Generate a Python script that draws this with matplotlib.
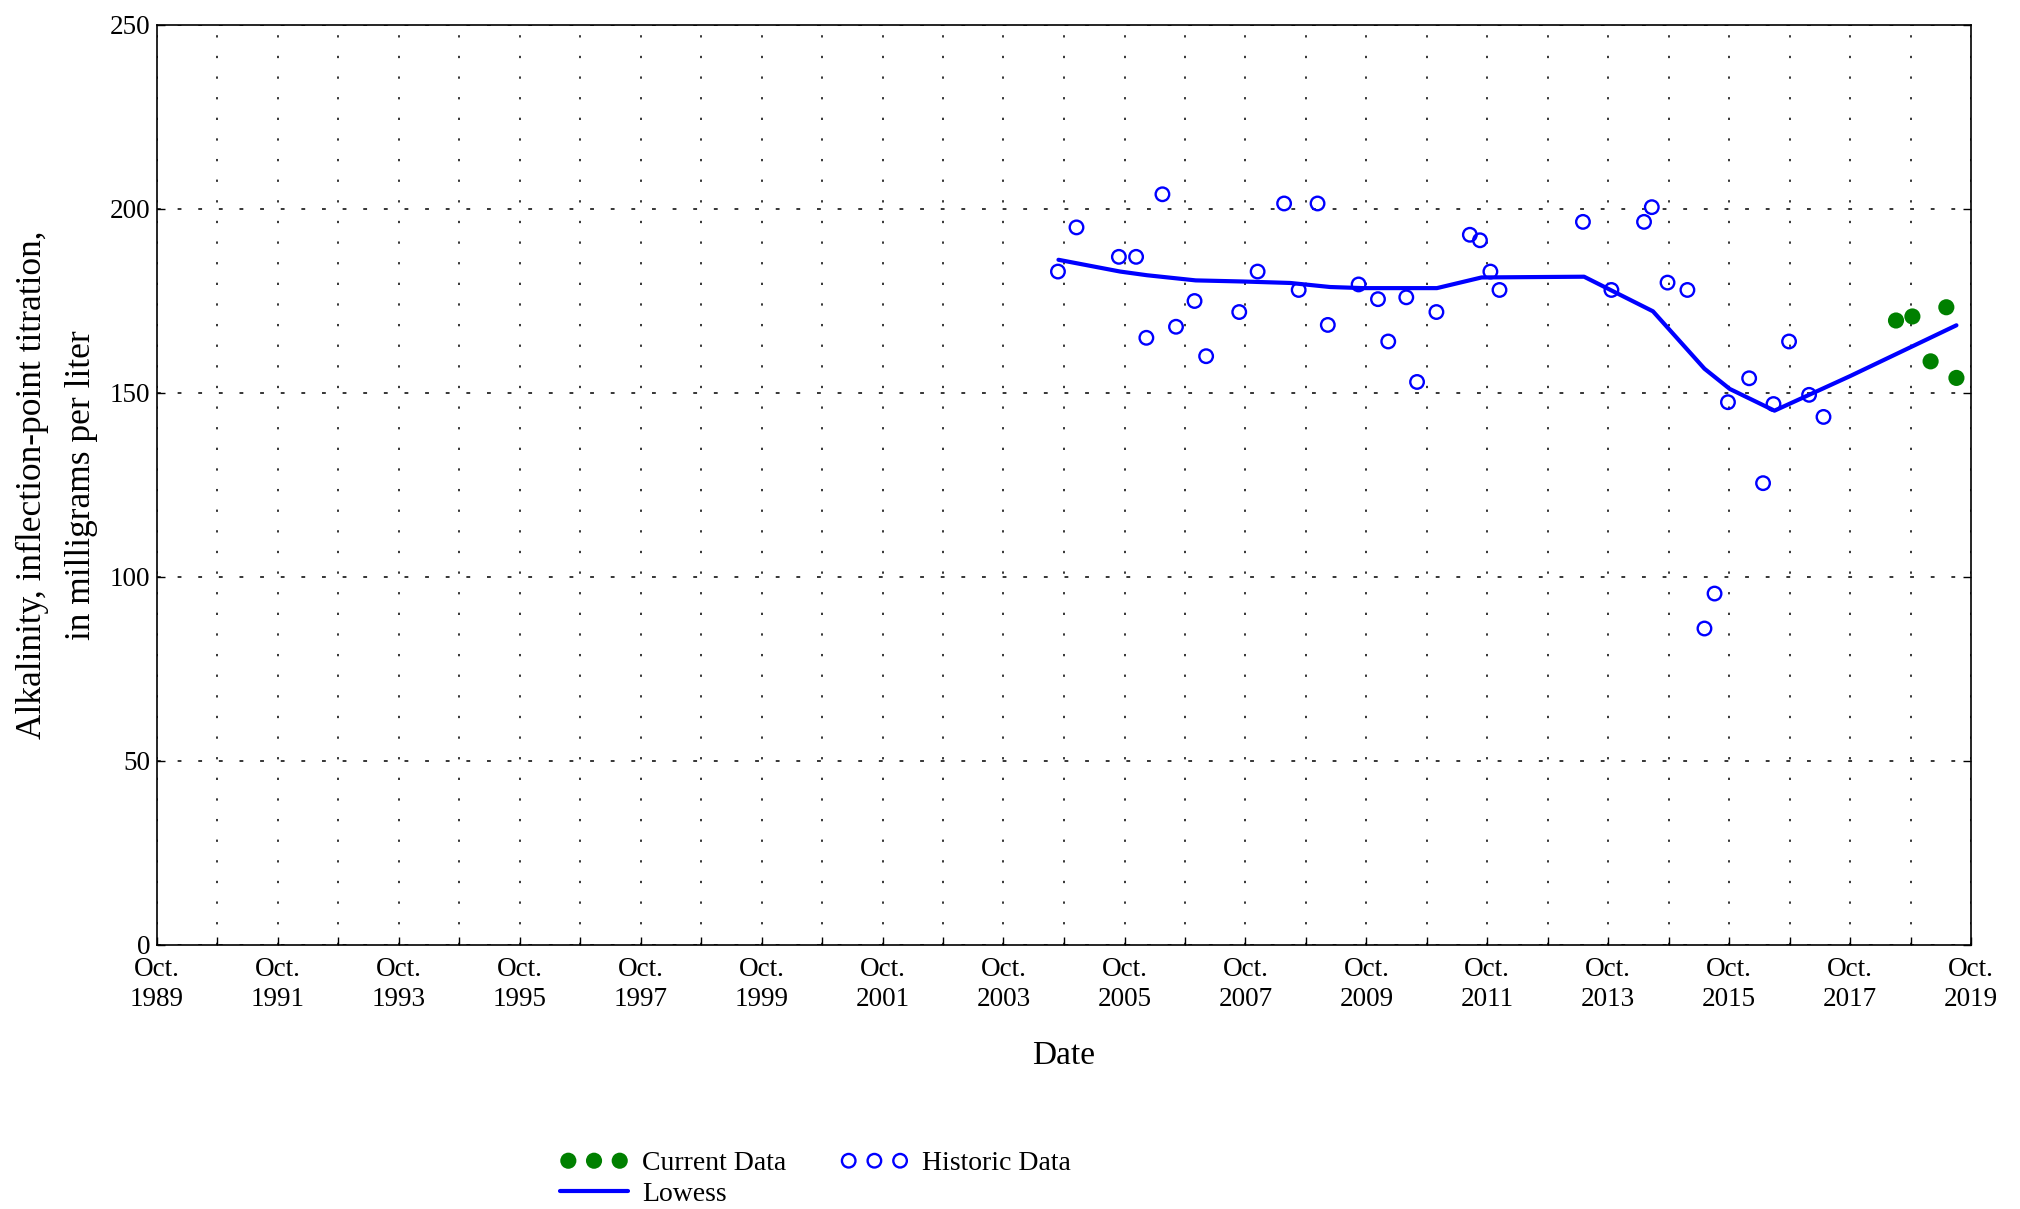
"""
Alkalinity time series: historic / current samples with a lowess curve
"""
from datetime import datetime

import matplotlib
matplotlib.use('Agg')
import matplotlib.pyplot as plt
import pandas as pd

plt.rcParams['font.family'] = ['Liberation Serif', 'DejaVu Serif']

# historic samples (blue open circles)
hist_dates = [
    '2004-08-25', '2004-12-15', '2005-08-28', '2005-12-10', '2006-02-10',
    '2006-05-18', '2006-08-08', '2006-11-28', '2007-02-06', '2007-08-25',
    '2007-12-14', '2008-05-22', '2008-08-18', '2008-12-10', '2009-02-10',
    '2009-08-15', '2009-12-10', '2010-02-10', '2010-05-30', '2010-08-03',
    '2010-11-28', '2011-06-18', '2011-08-18', '2011-10-20', '2011-12-14',
    '2013-05-01', '2013-10-20', '2014-05-05', '2014-06-21', '2014-09-24',
    '2015-01-22', '2015-05-05', '2015-07-05', '2015-09-24', '2016-01-30',
    '2016-04-23', '2016-06-25', '2016-09-27', '2017-01-26', '2017-04-23',
]
hist_vals = [
    183, 195, 187, 187, 165,
    204, 168, 175, 160, 172,
    183, 201.5, 178, 201.5, 168.5,
    179.5, 175.5, 164, 176, 153,
    172, 193, 191.5, 183, 178,
    196.5, 178, 196.5, 200.5, 180,
    178, 86, 95.5, 147.5, 154,
    125.5, 147, 164, 149.5, 143.5,
]

# current samples (green dots)
cur_dates = ['2018-07-05', '2018-10-12', '2019-01-30', '2019-05-05', '2019-07-05']
cur_vals = [169.7, 170.8, 158.6, 173.3, 154.1]

# lowess curve
lowess_dates = [
    '2004-08-28', '2005-09-05', '2006-02-14', '2006-12-05', '2007-09-16',
    '2008-06-28', '2009-02-24', '2009-09-12', '2010-12-01', '2011-08-28',
    '2013-05-08', '2014-06-28', '2015-05-05', '2015-10-05', '2016-07-01',
    '2017-10-01', '2019-07-05',
]
lowess_vals = [
    186.2, 183.0, 182.0, 180.6, 180.3,
    179.9, 178.8, 178.5, 178.5, 181.4,
    181.6, 172.2, 156.6, 151.1, 145.2,
    154.6, 168.4,
]

tick_years = list(range(1989, 2020))
y_ticks = [0, 50, 100, 150, 200, 250]

BLUE = '#0000ff'
GREEN = '#008000'

fig = plt.figure(figsize=(20.2, 12.09), dpi=100)
W, H = 2020, 1209
ax = fig.add_axes([157 / W, 1 - 945 / H, (1971 - 157) / W, (945 - 25) / H])

h_low, = ax.plot(pd.to_datetime(lowess_dates), lowess_vals, color=BLUE, lw=3.0,
                 solid_capstyle='round', label='Lowess', zorder=3)
h_hist = ax.scatter(pd.to_datetime(hist_dates), hist_vals, s=95, facecolors='none',
                    edgecolors=BLUE, linewidths=1.7, label='Historic Data', zorder=4)
h_cur = ax.scatter(pd.to_datetime(cur_dates), cur_vals, s=135, color=GREEN,
                   edgecolors='none', label='Current Data', zorder=4)

# axes limits and ticks
ax.set_xlim(datetime(1989, 10, 1), datetime(2019, 10, 1))
ax.set_ylim(0, 250)

major = [datetime(y, 10, 1) for y in tick_years if y % 2 == 1]
minor = [datetime(y, 10, 1) for y in tick_years if y % 2 == 0]
ax.set_xticks(major)
ax.set_xticklabels([f'Oct.\n{d.year}' for d in major])
ax.set_xticks(minor, minor=True)
ax.set_yticks(y_ticks)

ax.tick_params(axis='x', which='both', direction='in', length=6, width=1,
               labelsize=19.5, pad=9, top=False)
ax.tick_params(axis='y', direction='in', length=6, width=1, labelsize=19.5,
               pad=5, left=True, right=True)
for lbl in ax.get_xticklabels():
    lbl.set_linespacing(1.25)

for sp in ax.spines.values():
    sp.set_linewidth(1.2)

# dotted grid
ax.grid(True, axis='x', which='both', color='black', lw=1.1,
        linestyle=(0, (1.5, 12)))
ax.grid(True, axis='y', which='major', color='black', lw=1.1,
        linestyle=(0, (2.5, 11)))
ax.set_axisbelow(True)

ax.set_xlabel('Date', fontsize=24, labelpad=20)
ax.set_ylabel('Alkalinity, inflection-point titration,\nin milligrams per liter',
              fontsize=25.5, labelpad=8, linespacing=1.65)

fig.legend(handles=[h_cur, h_low, h_hist], ncol=2, scatterpoints=3,
           scatteryoffsets=[0.5],
           loc='upper left', bbox_to_anchor=(560 / W, 1 - 1151 / H),
           frameon=False, fontsize=20, handlelength=2.45, handletextpad=0.5,
           columnspacing=1.95, labelspacing=0.17, borderpad=0, borderaxespad=0)

fig.savefig('out.png', dpi=100)
